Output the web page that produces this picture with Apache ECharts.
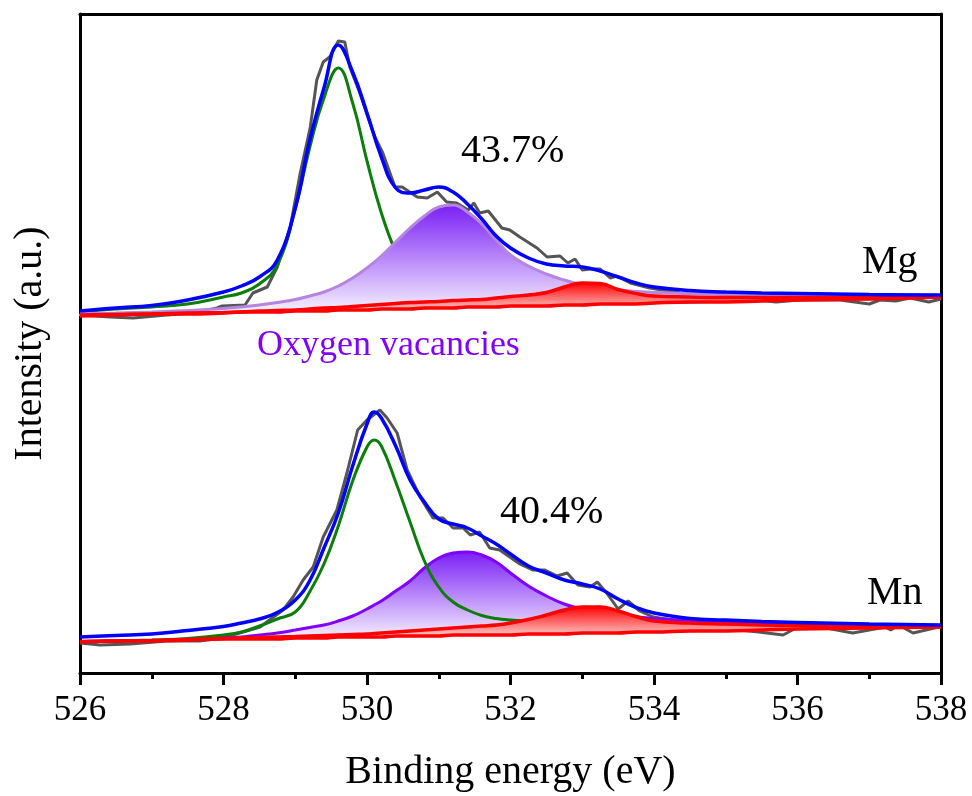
<!DOCTYPE html>
<html>
<head>
<meta charset="utf-8">
<title>O 1s XPS</title>
<script src="https://cdn.jsdelivr.net/npm/echarts@6/dist/echarts.min.js"></script>
<style>
  html, body { margin: 0; padding: 0; background: #fff; }
  #chart { width: 972px; height: 796px; }
</style>
</head>
<body>
<div id="chart"></div>
<script>
// ---- Binding-energy grids (eV) for the fitted curves ----
const mgFitEv = [526, 526.5, 527, 527.5, 528, 528.25, 528.5, 528.75, 529, 529.2, 529.4, 529.6, 529.8, 530,
  530.2, 530.4, 530.6, 530.8, 531, 531.2, 531.4, 531.6, 531.8, 532, 532.25, 532.5, 532.75, 533, 533.25,
  533.5, 533.75, 534, 534.5, 535, 535.5, 536, 537, 538];
const mnFitEv = [526, 526.5, 527, 527.5, 528, 528.25, 528.5, 528.75, 529, 529.2, 529.4, 529.6, 529.8, 530, 530.1,
  530.2, 530.4, 530.6, 530.8, 531, 531.2, 531.4, 531.6, 531.8, 532, 532.25, 532.5, 532.75, 533, 533.25,
  533.5, 533.75, 534, 534.5, 535, 535.5, 536, 537, 538];

// ---- Mg sample (offset trace, a.u.) ----
const mgBaseline = [357, 358, 359, 359, 360, 361, 361, 361, 362, 362, 362, 363, 363, 363, 364, 364, 364, 365, 365,
  365, 366, 366, 366, 367, 367, 367, 368, 368, 369, 369, 369, 370, 371, 371, 372, 373, 374, 376];
const mgLattice = [361, 364, 366, 369, 376, 380, 389, 408, 464, 525, 575, 605, 570, 512, 460, 421, 394, 380, 375,
  371, 369, 368, 368, 367.5, 368, 368.5, 369, 369, 369.5, 370, 370, 370.5, 371, 372, 372.5, 373.5, 375, 376];
const mgVacancy = [359.5, 360, 361, 362.5, 364.5, 366, 368, 370.5, 373.5, 377, 381, 387, 395, 405, 417, 431, 445, 457,
  466, 468, 461, 449, 433, 418, 407, 399, 393, 388, 385, 383, 381.5, 380.5, 379.5, 378.5, 378, 377.5, 377, 376.5];
const mgAdsorbed = [358, 358.5, 359, 360, 360.5, 361, 362, 362.5, 363, 364, 365, 365.5, 366.5, 367.5, 368.5, 369.5,
  370.5, 371, 371.5, 372.5, 373, 373.5, 375, 376.5, 378, 380.5, 386, 390, 389.5, 383.5, 379.5, 377, 376, 375.5,
  375.5, 375.5, 375.7, 376];
const mgEnvelope = [362, 365, 367.5, 373, 381, 387, 396, 413, 465, 532, 585, 628, 601, 560, 516, 485, 480, 483, 486,
  481, 469, 454, 437, 425, 415, 409, 407, 406, 402, 396, 390, 386, 382.5, 381, 380, 379.5, 378.5, 378];
const mgRaw = [[526.00, 358], [526.42, 356], [526.74, 355], [527.21, 358], [527.60, 360], [527.91, 365], [527.98, 367],
  [528.30, 368], [528.41, 380], [528.61, 386], [528.75, 406], [528.93, 446], [529.07, 500], [529.21, 546],
  [529.30, 593], [529.39, 611], [529.48, 616], [529.60, 632], [529.69, 631], [529.76, 606], [529.90, 580],
  [530.04, 550], [530.11, 536], [530.22, 520], [530.39, 486], [530.49, 486], [530.70, 476], [530.84, 475],
  [530.98, 481], [531.11, 471], [531.25, 470], [531.41, 463], [531.49, 470], [531.57, 460], [531.69, 462],
  [531.88, 445], [531.99, 443], [532.13, 436], [532.37, 425], [532.51, 416], [532.69, 417], [532.80, 410],
  [532.90, 414], [533.00, 403], [533.11, 404], [533.25, 404], [533.39, 395], [533.48, 397], [533.67, 390],
  [533.94, 385], [534.36, 380], [534.64, 378], [535.20, 375], [535.70, 371], [536.03, 373], [536.59, 373],
  [537.00, 369], [537.15, 373], [537.37, 372], [537.57, 375], [537.83, 371], [538.00, 374]];

// ---- Mn sample ----
const mnBaseline = [31, 32, 32, 33, 34, 34, 34, 34, 35, 35, 35, 36, 36, 36, 36, 36, 37, 37, 37, 37, 38, 38, 38, 38,
  38, 39, 39, 39, 40, 40, 40, 41, 41, 42, 42, 43, 44, 45, 46];
const mnLattice = [31, 32, 33, 34.5, 38, 41, 47, 54, 61, 81, 109, 147, 192, 226, 233, 227, 191, 151, 112, 86, 71,
  63, 57.5, 54.5, 53, 52, 51.5, 51, 50.5, 50, 49.5, 49, 48.5, 48, 47.5, 47, 47, 46.5, 46];
const mnVacancy = [31, 32, 32.5, 33.5, 35, 36, 38, 40, 43, 45.5, 48, 52, 57, 64, 68, 72, 82, 92, 105, 115, 120,
  121, 118, 111, 100, 87, 77, 69, 64, 60.5, 58, 56, 54.5, 52.5, 51.5, 50.5, 49.5, 48, 46.5];
const mnAdsorbed = [31.5, 32, 32.5, 33.5, 34.5, 35, 35.5, 36, 36.5, 37, 37.5, 38, 38.5, 39, 39.5, 40, 41, 42, 43,
  44, 45, 46, 47, 48, 50, 53.5, 58, 63, 66, 66, 62, 56.5, 52, 50, 49, 48, 47.5, 46.5, 46];
const mnEnvelope = [36, 37.5, 39, 42.5, 46.5, 50, 54, 60.5, 73, 92, 125, 160, 207, 249, 261, 255, 227, 193, 171,
  154, 149, 145, 137, 129, 119, 107, 100, 93, 89, 84, 74, 65.5, 60, 54.5, 53, 51.5, 50.5, 49, 48];
const mnRaw = [[526.00, 30], [526.28, 28], [526.70, 29], [527.21, 32], [527.67, 32], [527.88, 34], [528.13, 38],
  [528.51, 46], [528.83, 63], [528.97, 76], [529.11, 93], [529.25, 106], [529.39, 136], [529.58, 163],
  [529.72, 200], [529.87, 243], [530.00, 253], [530.18, 263], [530.28, 255], [530.42, 240], [530.56, 203],
  [530.74, 176], [530.92, 155], [531.06, 155], [531.20, 145], [531.34, 145], [531.44, 138], [531.57, 141],
  [531.71, 125], [531.85, 123], [531.99, 116], [532.13, 109], [532.31, 103], [532.48, 103], [532.65, 97],
  [532.79, 100], [532.94, 88], [533.11, 86], [533.21, 91], [533.34, 80], [533.50, 64], [533.64, 72],
  [533.80, 62], [533.99, 56], [534.26, 53], [534.64, 49], [534.91, 45], [535.46, 41], [535.80, 38],
  [535.98, 45], [536.40, 45], [536.77, 40], [537.23, 46], [537.30, 43], [537.41, 48], [537.61, 40], [537.97, 46]];

// ---- Axis / annotation text ----
const xTicks = [526, 528, 530, 532, 534, 536, 538];
const xTitle = 'Binding energy (eV)';
const yTitle = 'Intensity (a.u.)';
const sampleLabels = ['Mg', 'Mn'];
const vacancyShares = ['43.7%', '40.4%'];
const vacancyNote = 'Oxygen vacancies';

const SERIF = '"Liberation Serif", "Times New Roman", Times, serif';

function pairs(xs, ys) { return xs.map((x, i) => [x, ys[i]]); }

function curve(name, xs, ys, color, width, z) {
  return {
    name, type: 'line', data: pairs(xs, ys), smooth: 0.45, showSymbol: false, symbol: 'none',
    lineStyle: { color, width }, z, silent: true, animation: false
  };
}

// Gradient band between a component curve and its background line
function band(xs, top, base, topColor, bottomColor, z) {
  return {
    type: 'custom', coordinateSystem: 'cartesian2d', silent: true, z, animation: false,
    data: [[xs[0], base[0]]],
    renderItem: function (params, api) {
      const pts = [];
      for (let i = 0; i < xs.length; i++) pts.push(api.coord([xs[i], top[i]]));
      for (let i = xs.length - 1; i >= 0; i--) pts.push(api.coord([xs[i], base[i]]));
      return {
        type: 'polygon',
        shape: { points: pts, smooth: 0.35 },
        style: {
          fill: {
            type: 'linear', x: 0, y: 0, x2: 0, y2: 1,
            colorStops: [{ offset: 0, color: topColor }, { offset: 1, color: bottomColor }]
          },
          stroke: null
        }
      };
    }
  };
}

function raw(data) {
  return { type: 'line', data, showSymbol: false, symbol: 'none',
    lineStyle: { color: '#555555', width: 3 }, z: 2, silent: true, animation: false };
}

const series = [
  // Mg
  raw(mgRaw),
  curve('mgLattice', mgFitEv, mgLattice, '#0a7d0a', 3, 3),
  band(mgFitEv, mgVacancy, mgBaseline, '#7a1ff5', '#fbf9ff', 4),
  curve('mgVacancy', mgFitEv, mgVacancy, '#b586e0', 3, 5),
  band(mgFitEv, mgAdsorbed, mgBaseline, '#ff0000', '#fff3f3', 6),
  curve('mgAdsorbed', mgFitEv, mgAdsorbed, '#ff0000', 3.5, 7),
  curve('mgBaseline', mgFitEv, mgBaseline, '#ff0000', 3.5, 7),
  curve('mgEnvelope', mgFitEv, mgEnvelope, '#0000ff', 3.5, 8),
  // Mn
  raw(mnRaw),
  band(mnFitEv, mnVacancy, mnBaseline, '#7a1ff5', '#fbf9ff', 3),
  curve('mnVacancy', mnFitEv, mnVacancy, '#8000ff', 3, 4),
  curve('mnLattice', mnFitEv, mnLattice, '#0a7d0a', 3, 5),
  band(mnFitEv, mnAdsorbed, mnBaseline, '#ff0000', '#fff3f3', 6),
  curve('mnAdsorbed', mnFitEv, mnAdsorbed, '#ff0000', 3.5, 7),
  curve('mnBaseline', mnFitEv, mnBaseline, '#ff0000', 3.5, 7),
  curve('mnEnvelope', mnFitEv, mnEnvelope, '#0000ff', 3.5, 8)
];

const black = '#000000';
const chart = echarts.init(document.getElementById('chart'), null, { renderer: 'canvas' });

chart.setOption({
  animation: false,
  backgroundColor: '#ffffff',
  grid: { left: 80, right: 31, top: 14, bottom: 123, containLabel: false, outerBoundsMode: 'none' },
  xAxis: [
    {
      type: 'value', min: xTicks[0], max: xTicks[xTicks.length - 1], interval: 2, position: 'bottom',
      axisLine: { show: true, onZero: false, lineStyle: { color: black, width: 3 } },
      axisTick: { show: true, inside: false, length: 12, lineStyle: { color: black, width: 3 } },
      minorTick: { show: true, splitNumber: 2, length: 6, lineStyle: { color: black, width: 3 } },
      splitLine: { show: false }, minorSplitLine: { show: false },
      axisLabel: { show: true, color: black, fontFamily: SERIF, fontSize: 35, margin: 20,
        formatter: v => String(v) },
      name: xTitle, nameLocation: 'middle', nameGap: 79,
      nameTextStyle: { color: black, fontFamily: SERIF, fontSize: 40 }
    },
    {
      type: 'value', min: xTicks[0], max: xTicks[xTicks.length - 1], position: 'top',
      axisLine: { show: true, onZero: false, lineStyle: { color: black, width: 3 } },
      axisTick: { show: false }, axisLabel: { show: false }, splitLine: { show: false }
    }
  ],
  yAxis: [
    {
      type: 'value', min: 0, max: 659, position: 'left',
      axisLine: { show: true, onZero: false, lineStyle: { color: black, width: 3 } },
      axisTick: { show: false }, axisLabel: { show: false }, splitLine: { show: false },
      name: yTitle, nameLocation: 'middle', nameGap: 30, nameRotate: 90,
      nameTextStyle: { color: black, fontFamily: SERIF, fontSize: 40 }
    },
    {
      type: 'value', min: 0, max: 659, position: 'right',
      axisLine: { show: true, onZero: false, lineStyle: { color: black, width: 3 } },
      axisTick: { show: false }, axisLabel: { show: false }, splitLine: { show: false }
    }
  ],
  series: series,
  graphic: [
    { type: 'text', x: 461, y: 151, z: 20, silent: true,
      style: { text: vacancyShares[0], fill: black, font: '40px ' + SERIF, textAlign: 'left', textVerticalAlign: 'middle' } },
    { type: 'text', x: 500, y: 512, z: 20, silent: true,
      style: { text: vacancyShares[1], fill: black, font: '40px ' + SERIF, textAlign: 'left', textVerticalAlign: 'middle' } },
    { type: 'text', x: 862, y: 262, z: 20, silent: true,
      style: { text: sampleLabels[0], fill: black, font: '40px ' + SERIF, textAlign: 'left', textVerticalAlign: 'middle' } },
    { type: 'text', x: 867, y: 593, z: 20, silent: true,
      style: { text: sampleLabels[1], fill: black, font: '40px ' + SERIF, textAlign: 'left', textVerticalAlign: 'middle' } },
    { type: 'text', x: 257, y: 346, z: 20, silent: true,
      style: { text: vacancyNote, fill: '#8000ff', font: '36px ' + SERIF, textAlign: 'left', textVerticalAlign: 'middle' } }
  ]
});
</script>
</body>
</html>
